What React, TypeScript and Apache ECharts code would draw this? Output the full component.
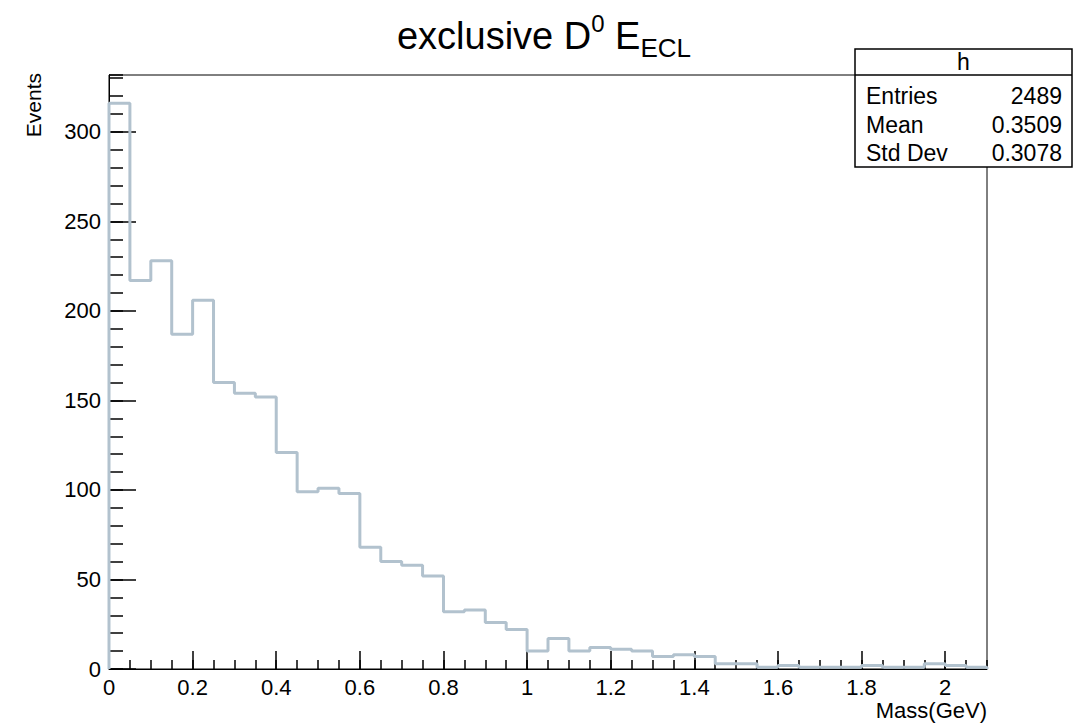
import React, { useEffect, useRef } from "react";
import * as echarts from "echarts";

// ---- data ----
const binWidth = 0.05;
const xMin = 0;
const xMax = 2.1;
const yMax = 331.8;
const counts = [
  316, 217, 228, 187, 206, 160, 154, 152, 121, 99, 101, 98, 68, 60, 58, 52,
  32, 33, 26, 22, 10, 17, 10, 12, 11, 10, 7, 8, 7, 3, 3, 1, 2, 1, 1, 1, 2, 1,
  1, 3, 2, 1,
];
const statLabels = ["Entries", "Mean", "Std Dev"];
const statValues = ["2489", "0.3509", "0.3078"];
const histName = "h";
const xName = "Mass(GeV)";
const yName = "Events";

const FONT = "'Liberation Sans', Arial, Helvetica, sans-serif";
const LINE_COLOR = "#b2c2ce";

export default function App() {
  const ref = useRef<HTMLDivElement>(null);

  useEffect(() => {
    if (!ref.current) return;
    const chart = echarts.init(ref.current, undefined, { renderer: "svg" });

    const pts: [number, number][] = [[xMin, 0]];
    counts.forEach((c, i) => pts.push([xMin + i * binWidth, c]));
    pts.push([xMin + counts.length * binWidth, counts[counts.length - 1]]);
    pts.push([xMin + counts.length * binWidth, 0]);

    const boxX = 855, boxY = 49, boxW = 217, boxH = 118;
    const statTexts: any[] = [];
    statLabels.forEach((l, i) => {
      const y = 96 + i * 28.5;
      statTexts.push({
        type: "text", x: boxX + 11, y,
        style: { text: l, font: `23px ${FONT}`, fill: "#000", align: "left", verticalAlign: "middle" },
      });
      statTexts.push({
        type: "text", x: boxX + boxW - 10, y,
        style: { text: statValues[i], font: `23px ${FONT}`, fill: "#000", align: "right", verticalAlign: "middle" },
      });
    });

    chart.setOption({
      animation: false,
      backgroundColor: "#fff",
      title: {
        left: "center",
        top: 11,
        padding: 0,
        text: "{a|exclusive D}{sup|0}{a| E}{sub|ECL}",
        textStyle: {
          fontWeight: "normal",
          rich: {
            a: { fontFamily: FONT, fontSize: 38, fontWeight: "normal", color: "#000", lineHeight: 50, verticalAlign: "middle" },
            sup: { fontFamily: FONT, fontSize: 24, fontWeight: "normal", color: "#000", lineHeight: 24, verticalAlign: "top" },
            sub: { fontFamily: FONT, fontSize: 26, fontWeight: "normal", color: "#000", lineHeight: 18, verticalAlign: "bottom" },
          },
        },
      },
      grid: {
        left: 109, right: 101, top: 75, bottom: 54,
        show: true, borderColor: "#000", borderWidth: 1, backgroundColor: "transparent",
      },
      xAxis: [
        {
          type: "value", position: "bottom", min: xMin, max: xMax, interval: 0.2,
          axisLine: { show: true, lineStyle: { color: "#000", width: 1 } },
          axisTick: { show: true, inside: true, length: 18, lineStyle: { color: "#000", width: 1.5 } },
          axisLabel: { color: "#000", fontSize: 22, fontFamily: FONT, margin: 7, showMaxLabel: false },
          splitLine: { show: false },
        },
        {
          type: "value", position: "bottom", min: xMin, max: xMax, interval: binWidth,
          axisLine: { show: false },
          axisTick: { show: true, inside: true, length: 9, lineStyle: { color: "#000", width: 1.5 } },
          axisLabel: { show: false },
          splitLine: { show: false },
        },
      ],
      yAxis: [
        {
          type: "value", position: "left", min: 0, max: yMax, interval: 50,
          axisLine: { show: true, lineStyle: { color: "#000", width: 1 } },
          axisTick: { show: true, inside: true, length: 27, lineStyle: { color: "#000", width: 1.5 } },
          axisLabel: { color: "#000", fontSize: 22, fontFamily: FONT, margin: 8, showMaxLabel: false },
          splitLine: { show: false },
        },
        {
          type: "value", position: "left", min: 0, max: yMax, interval: 10,
          axisLine: { show: false },
          axisTick: { show: true, inside: true, length: 14, lineStyle: { color: "#000", width: 1.5 } },
          axisLabel: { show: false },
          splitLine: { show: false },
        },
      ],
      series: [
        {
          type: "line", name: histName, xAxisIndex: 0, yAxisIndex: 0,
          step: "end", showSymbol: false, symbol: "none", data: pts,
          lineStyle: { color: LINE_COLOR, width: 3 }, z: 5,
        },
      ],
      graphic: [
        {
          type: "text", x: 33, y: 73, rotation: Math.PI / 2,
          style: { text: yName, font: `21px ${FONT}`, fill: "#000", align: "right", verticalAlign: "middle" },
        },
        {
          type: "text", x: 987, y: 710,
          style: { text: xName, font: `22px ${FONT}`, fill: "#000", align: "right", verticalAlign: "middle" },
        },
        {
          type: "group", z: 100,
          children: [
            {
              type: "rect", shape: { x: boxX, y: boxY, width: boxW, height: boxH },
              style: { fill: "#fff", stroke: "#000", lineWidth: 1.5 },
            },
            {
              type: "line", shape: { x1: boxX, y1: 75, x2: boxX + boxW, y2: 75 },
              style: { stroke: "#000", lineWidth: 1.5 },
            },
            {
              type: "text", x: boxX + boxW / 2, y: 62,
              style: { text: histName, font: `23px ${FONT}`, fill: "#000", align: "center", verticalAlign: "middle" },
            },
            ...statTexts,
          ],
        },
      ],
    });

    return () => chart.dispose();
  }, []);

  return (
    <div
      ref={ref}
      style={{ position: "fixed", left: 0, top: 0, width: 1088, height: 723, background: "#fff" }}
    />
  );
}
